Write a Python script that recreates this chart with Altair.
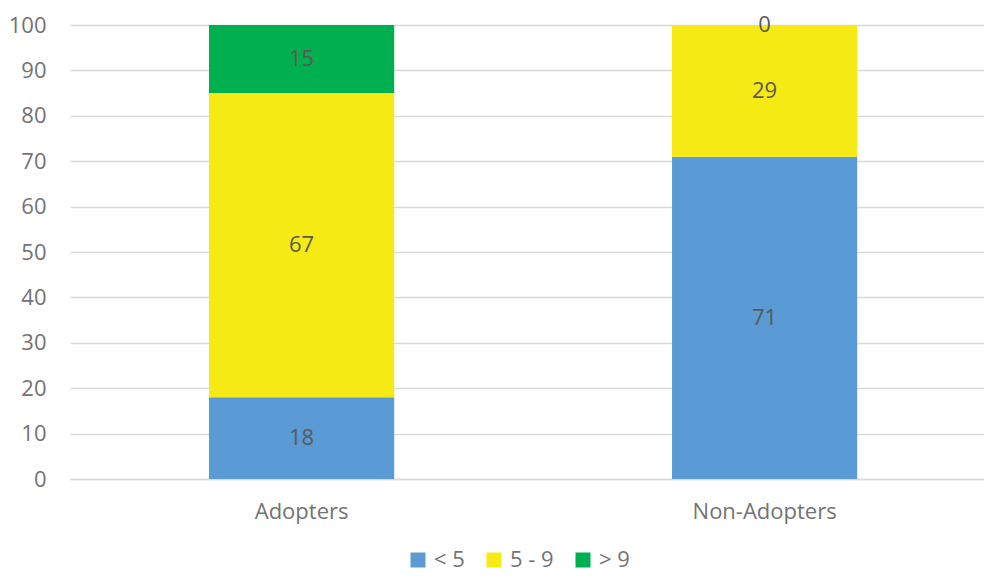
import altair as alt
import pandas as pd

groups = ["Adopters", "Adopters", "Adopters", "Non-Adopters", "Non-Adopters", "Non-Adopters"]
series = ["< 5", "5 - 9", "> 9", "< 5", "5 - 9", "> 9"]
order = [0, 1, 2, 0, 1, 2]
values = [18, 67, 15, 71, 29, 0]

series_names = ["< 5", "5 - 9", "> 9"]
series_colors = ["#5B9BD5", "#F5EA14", "#00B050"]

df = pd.DataFrame({"group": groups, "series": series, "ord": order, "value": values})

FONT = "Open Sans"
AXIS_GRAY = "#737373"
LABEL_GRAY = "#595959"

base = alt.Chart(df).transform_stack(
    stack="value", as_=["y0", "y1"], groupby=["group"], sort=[alt.SortField("ord")]
).transform_calculate(mid="(datum.y0 + datum.y1) / 2")

x = alt.X("group:N", title=None,
          scale=alt.Scale(paddingInner=0.6, paddingOuter=0.287, align=0.523),
          axis=alt.Axis(labelAngle=0, labelFont=FONT, labelFontSize=22, labelColor=AXIS_GRAY,
                        labelPadding=22, ticks=False, domainColor="#D9D9D9", domainWidth=1.5))

bars = base.mark_bar().encode(
    x=x,
    y=alt.Y("y0:Q", title=None, scale=alt.Scale(domain=[0, 100], nice=False),
            axis=alt.Axis(values=list(range(0, 101, 10)), labelFont=FONT, labelFontSize=22,
                          labelColor=AXIS_GRAY, labelPadding=24, ticks=False, domain=False,
                          gridColor="#D9D9D9", gridWidth=1.5)),
    y2="y1:Q",
    color=alt.Color("series:N", scale=alt.Scale(domain=series_names, range=series_colors),
                    legend=alt.Legend(title=None, orient="none", direction="horizontal",
                                      legendX=337, legendY=524, symbolType="square",
                                      symbolSize=225, symbolStrokeWidth=0, symbolOpacity=1,
                                      labelFont=FONT, labelFontSize=22, labelColor=AXIS_GRAY,
                                      columnPadding=18, labelOffset=5)),
)

labels = base.mark_text(font=FONT, fontSize=22, color=LABEL_GRAY).encode(
    x=alt.X("group:N"),
    y=alt.Y("mid:Q"),
    text=alt.Text("value:Q"),
)

chart = alt.layer(bars, labels).properties(
    width=914, height=454,
    autosize=alt.AutoSizeParams(type="none"),
    padding={"left": 62, "top": 17, "right": 0, "bottom": 93},
).configure_view(stroke=None)

chart.save("out.html", embed_options={"renderer": "svg", "actions": False})
